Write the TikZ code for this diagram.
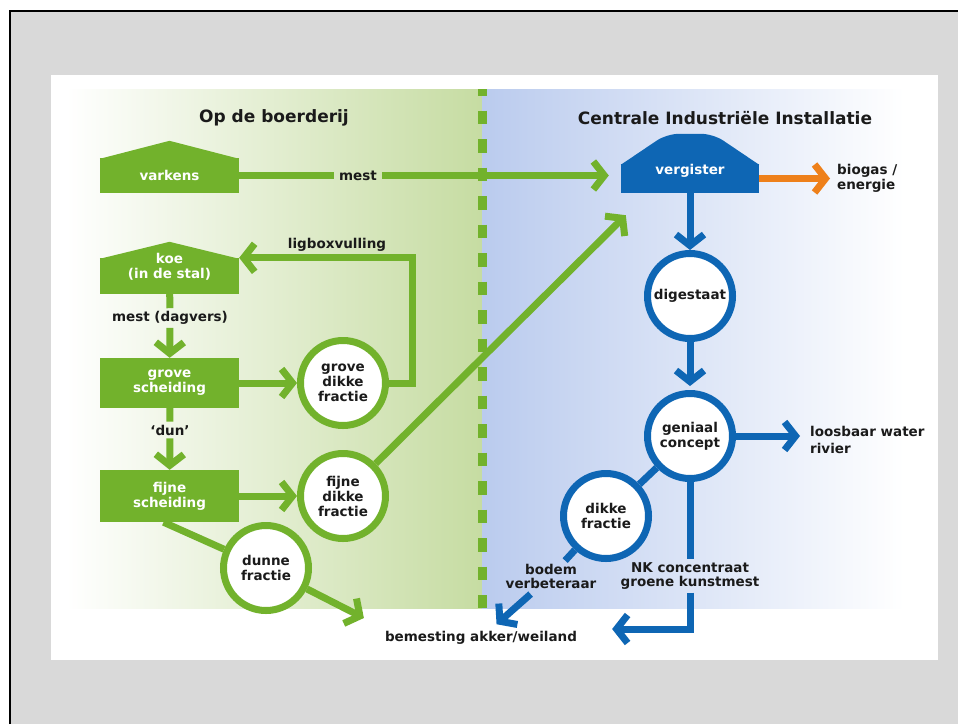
\documentclass[tikz,border=0pt]{standalone}
\usepackage{fontspec}
\setmainfont{DejaVu Sans}
\usetikzlibrary{arrows.meta}
\usetikzlibrary{positioning}
\definecolor{farmgreen}{RGB}{114,178,44}
\definecolor{plantblue}{RGB}{14,102,180}
\definecolor{gasorange}{RGB}{238,128,26}
\definecolor{greenbg}{RGB}{198,220,162}
\definecolor{bluebg}{RGB}{186,203,238}
\definecolor{framegray}{RGB}{217,217,217}
\definecolor{inkblack}{RGB}{26,26,26}
\newcommand\headfont{\bfseries\fontsize{17}{19}\selectfont}
\newcommand\tagfont{\bfseries\fontsize{13.5}{15}\selectfont}
\newcommand\tightfont{\bfseries\fontsize{13.5}{14}\selectfont}
\newcommand\roof[3]{
  \fill[#3] ([yshift=-1pt]#1.north west) -- ([yshift=#2pt]#1.north)
    -- ([yshift=-1pt]#1.north east) -- cycle;
}
\tikzset{
  shed/.style={rectangle, fill=#1, text=white, minimum width=139pt,
    inner sep=0pt, align=center, font=\tagfont},
  shedtext/.style={text=white, align=center, font=\tagfont, inner sep=0pt},
  tank/.style={circle, draw=#1, line width=7pt, fill=white, text=inkblack,
    minimum size=85pt, inner sep=0pt, align=center, font=\tagfont},
  pipe/.style={draw=#1, line width=7pt},
  flow/.style={draw=#1, line width=7pt, -{Straight Barb[length=11pt,width=28pt]}},
  tag/.style={text=inkblack, align=center, font=\tagfont, inner sep=5pt},
  head/.style={text=inkblack, font=\headfont, inner sep=0pt},
}

\begin{document}
\begin{tikzpicture}[x=1pt,y=-1pt]
  %
  \useasboundingbox (0,0) rectangle (958,724);
  \fill[framegray] (10,11) rectangle (958,724);
  \draw[black, line width=2pt] (10,724) -- (10,11) -- (958,11);
  \fill[white] (51,75) rectangle (938,660);
  \shade[left color=white, right color=greenbg] (66,89) rectangle (482,608);
  \shade[left color=bluebg, right color=white] (482,89) rectangle (905,608);
  \draw[farmgreen, line width=9pt, dash pattern=on 13.5pt off 15pt, dash phase=7pt]
    (482,89) -- (482,608);

  \node[head] (farmhead) at (274,118) {Op de boerderij};
  \node[head] (planthead) at (725,118) {Centrale Industriële Installatie};

  % op de boerderij
  \node[shed=farmgreen, minimum height=35pt] (varkens) at (169.5,175.5) {varkens};
  \roof{varkens}{17}{farmgreen}
  \node[shed=farmgreen, minimum height=36pt] (koe) at (169.5,276) {};
  \roof{koe}{16}{farmgreen}
  \node[shedtext] (koetext) at (169.5,267) {koe\\(in de stal)};
  \node[shed=farmgreen, minimum height=50pt] (grove) at (169.5,383) {grove\\scheiding};
  \node[shed=farmgreen, minimum height=52pt] (fijne) at (169.5,496) {fijne\\scheiding};

  \node[tank=farmgreen] (gdf) at (343,383) {grove\\dikke\\fractie};
  \node[tank=farmgreen] (fdf) at (343,496) {fijne\\dikke\\fractie};
  \node[tank=farmgreen] (dunne) at (266,568) {dunne\\fractie};

  \node[tag] (mestlbl) at (358,175.5) {mest};
  \node[tag] (ligbox) at (337,245) {ligboxvulling};
  \node[tag, inner sep=3pt] (dagvers) at (170,318) {mest (dagvers)};
  \node[tag, inner sep=3pt] (dunlbl) at (170,430) {‘dun’};

  % centrale installatie
  \node[shed=plantblue, minimum width=138pt, minimum height=29pt] (vergister) at (690,178.5) {};
  \fill[plantblue] ([yshift=-1pt]vergister.north west)
    [rounded corners=12pt] -- ([xshift=46pt,yshift=30pt]vergister.north west)
    -- ([xshift=-46pt,yshift=30pt]vergister.north east)
    [sharp corners] -- ([yshift=-1pt]vergister.north east) -- cycle;
  \node[shedtext] (vergistertext) at (690,171) {vergister};

  \node[tank=plantblue] (digestaat) at (690,296) {digestaat};
  \node[tank=plantblue] (geniaal) at (690,436) {geniaal\\concept};
  \node[tank=plantblue] (dikke) at (606,516) {dikke\\fractie};

  \node[tag, anchor=west, align=left, inner sep=2pt] (biogas) at (835,178) {biogas /\\energie};
  \node[tag, anchor=west, align=left, inner sep=2pt, font=\bfseries\fontsize{13.5}{17}\selectfont]
    (loosbaar) at (808,440) {loosbaar water\\rivier};
  \node[tag, inner sep=3pt, font=\tightfont] (bodem) at (551,576) {bodem\\verbeteraar};
  \node[tag, inner sep=3pt, font=\tightfont] (nk) at (690,576) {NK concentraat\\groene kunstmest};
  \node[tag, inner sep=3pt] (bemesting) at (481,638) {bemesting akker/weiland};

  % stromen
  \draw[pipe=farmgreen] (varkens) -- (mestlbl);
  \draw[flow=farmgreen, shorten >=12pt] (mestlbl) -- (mestlbl -| vergister.west);
  \draw[pipe=farmgreen] (koe) -- (dagvers);
  \draw[flow=farmgreen] (dagvers) -- (grove);
  \draw[flow=farmgreen] (grove) -- (gdf);
  \draw[flow=farmgreen] (gdf.east) -- ++(23,0) |- (koe.north east);
  \draw[pipe=farmgreen] (grove) -- (dunlbl);
  \draw[flow=farmgreen] (dunlbl) -- (fijne);
  \draw[flow=farmgreen] (fijne) -- (fdf);
  \draw[flow=farmgreen] (fdf) -- ([xshift=5pt,yshift=-22pt]vergister.south west);
  \draw[pipe=farmgreen] ([xshift=-6pt]fijne.south) -- (dunne);
  \draw[flow=farmgreen] (dunne) -- ([xshift=-18pt,yshift=20pt]bemesting.west);

  \draw[flow=gasorange, shorten >=5pt] (vergister.east) -- (vergister.east -| biogas.west);
  \draw[flow=plantblue] (vergister) -- (digestaat);
  \draw[flow=plantblue, shorten >=4pt] (digestaat) -- (geniaal);
  \draw[flow=plantblue, shorten >=8pt] (geniaal) -- (geniaal -| loosbaar.west);
  \draw[pipe=plantblue] (geniaal) -- (dikke);
  \draw[pipe=plantblue] (dikke) -- (bodem);
  \draw[flow=plantblue, shorten <=4pt, shorten >=6pt] (bodem) -- (bemesting);
  \draw[pipe=plantblue] (geniaal) -- (nk);
  \draw[flow=plantblue, shorten >=32pt] (nk) |- ([yshift=9pt]bemesting.east);

\end{tikzpicture}
\end{document}
